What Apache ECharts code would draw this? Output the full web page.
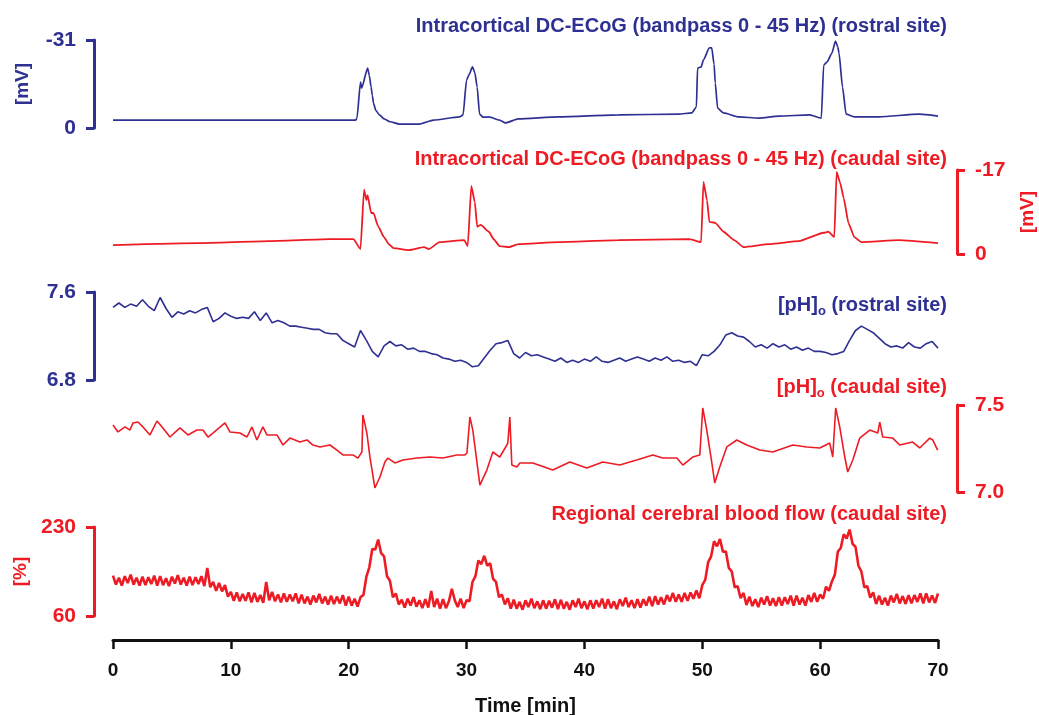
<!DOCTYPE html>
<html><head><meta charset="utf-8">
<script src="https://cdn.jsdelivr.net/npm/echarts@6/dist/echarts.min.js"></script>
<style>html,body{margin:0;padding:0;background:#fff}#c{width:1039px;height:715px}</style>
</head><body><div id="c"></div>
<script>
const BLUE = '#2E3192', RED = '#ED1C24', INK = '#111111';
const FONT = "'Liberation Sans', Arial, Helvetica, sans-serif";

// ---- x ticks
const timeTicks = [0, 10, 20, 30, 40, 50, 60, 70];

// ---- Panel 1: DC-ECoG rostral [mV]
const ecogRostralTime = [0,7.3,15.8,20.6,20.7,21.0,21.1,21.6,21.75,21.9,22.0,22.1,22.3,22.6,23.0,23.5,24.3,26.0,27.2,29.4,29.7,30.0,30.2,30.5,30.7,30.9,31.1,31.4,31.9,32.8,33.3,34.4,37.8,42.9,48.0,49.1,49.5,49.6,49.9,50.1,50.6,50.8,51.0,51.1,51.3,51.8,53.1,54.8,56.5,59.1,60.1,60.3,60.6,61.0,61.3,61.5,61.6,61.9,62.2,62.9,65.0,68.4,70.0];
const ecogRostralMv = [-2.8,-2.8,-2.8,-2.8,-3.5,-16.2,-14.1,-21.1,-18.5,-14.4,-11.5,-8.8,-6.2,-4.6,-3.2,-2.2,-1.4,-1.4,-2.8,-3.9,-4.6,-16.9,-18.7,-21.5,-19.5,-14.4,-4.9,-3.8,-3.9,-2.8,-1.8,-3.2,-3.9,-4.6,-4.9,-5.3,-7.4,-21.1,-21.5,-24.0,-28.2,-28.2,-22.5,-15.9,-7.0,-5.3,-3.9,-3.5,-4.2,-4.6,-3.5,-22.2,-23.3,-26.4,-30.6,-28.5,-26.4,-14.4,-4.9,-3.9,-3.9,-4.9,-4.2];

// ---- Panel 2: DC-ECoG caudal [mV]
const ecogCaudalTime = [0,7.3,13.2,18.3,20.4,21.0,21.3,21.5,21.6,21.9,22.1,22.5,23.0,23.4,23.8,25.1,26.4,26.8,27.7,29.8,30.1,30.4,30.7,30.9,31.2,31.9,32.3,32.8,33.6,34.4,37.8,42.9,48.9,49.9,50.1,50.4,50.6,51.1,51.8,52.7,53.5,55.7,58.2,60.3,60.7,61.2,61.4,61.7,62.0,62.4,62.9,63.5,66.7,70.0];
const ecogCaudalMv = [-1.8,-2.2,-2.6,-3.0,-3.0,-1.0,-13.0,-10.9,-11.9,-8.3,-8.3,-5.6,-3.4,-2.0,-1.2,-0.8,-1.4,-1.0,-2.4,-2.8,-1.6,-13.8,-10.5,-5.5,-5.9,-4.5,-3.0,-1.6,-1.4,-2.0,-2.4,-2.8,-3.0,-2.4,-14.6,-10.9,-6.5,-6.3,-4.5,-2.8,-1.4,-2.0,-2.6,-4.3,-4.5,-3.4,-16.6,-14.4,-11.3,-6.3,-3.4,-2.4,-2.8,-2.2];

// ---- half-minute sampling times (0 ... 70 min)
const halfMinTime = [0,0.5,1,1.5,2,2.5,3,3.5,4,4.5,5,5.5,6,6.5,7,7.5,8,8.5,9,9.5,10,10.5,11,11.5,12,12.5,13,13.5,14,14.5,15,15.5,16,16.5,17,17.5,18,18.5,19,19.5,20,20.5,21,21.5,22,22.5,23,23.5,24,24.5,25,25.5,26,26.5,27,27.5,28,28.5,29,29.5,30,30.5,31,31.5,32,32.5,33,33.5,34,34.5,35,35.5,36,36.5,37,37.5,38,38.5,39,39.5,40,40.5,41,41.5,42,42.5,43,43.5,44,44.5,45,45.5,46,46.5,47,47.5,48,48.5,49,49.5,50,50.5,51,51.5,52,52.5,53,53.5,54,54.5,55,55.5,56,56.5,57,57.5,58,58.5,59,59.5,60,60.5,61,61.5,62,62.5,63,63.5,64,64.5,65,65.5,66,66.5,67,67.5,68,68.5,69,69.5,70];

// ---- quarter-minute sampling times (0 ... 70 min)
const quarterMinTime = [
  0,0.25,0.5,0.75,1,1.25,1.5,1.75,2,2.25,2.5,2.75,3,3.25,3.5,3.75,4,4.25,4.5,4.75,
  5,5.25,5.5,5.75,6,6.25,6.5,6.75,7,7.25,7.5,7.75,8,8.25,8.5,8.75,9,9.25,9.5,9.75,
  10,10.25,10.5,10.75,11,11.25,11.5,11.75,12,12.25,12.5,12.75,13,13.25,13.5,13.75,14,14.25,14.5,14.75,
  15,15.25,15.5,15.75,16,16.25,16.5,16.75,17,17.25,17.5,17.75,18,18.25,18.5,18.75,19,19.25,19.5,19.75,
  20,20.25,20.5,20.75,21,21.25,21.5,21.75,22,22.25,22.5,22.75,23,23.25,23.5,23.75,24,24.25,24.5,24.75,
  25,25.25,25.5,25.75,26,26.25,26.5,26.75,27,27.25,27.5,27.75,28,28.25,28.5,28.75,29,29.25,29.5,29.75,
  30,30.25,30.5,30.75,31,31.25,31.5,31.75,32,32.25,32.5,32.75,33,33.25,33.5,33.75,34,34.25,34.5,34.75,
  35,35.25,35.5,35.75,36,36.25,36.5,36.75,37,37.25,37.5,37.75,38,38.25,38.5,38.75,39,39.25,39.5,39.75,
  40,40.25,40.5,40.75,41,41.25,41.5,41.75,42,42.25,42.5,42.75,43,43.25,43.5,43.75,44,44.25,44.5,44.75,
  45,45.25,45.5,45.75,46,46.25,46.5,46.75,47,47.25,47.5,47.75,48,48.25,48.5,48.75,49,49.25,49.5,49.75,
  50,50.25,50.5,50.75,51,51.25,51.5,51.75,52,52.25,52.5,52.75,53,53.25,53.5,53.75,54,54.25,54.5,54.75,
  55,55.25,55.5,55.75,56,56.25,56.5,56.75,57,57.25,57.5,57.75,58,58.25,58.5,58.75,59,59.25,59.5,59.75,
  60,60.25,60.5,60.75,61,61.25,61.5,61.75,62,62.25,62.5,62.75,63,63.25,63.5,63.75,64,64.25,64.5,64.75,
  65,65.25,65.5,65.75,66,66.25,66.5,66.75,67,67.25,67.5,67.75,68,68.25,68.5,68.75,69,69.25,69.5,69.75,
  70];

// ---- Panel 3: [pH]o rostral (half-minute samples)
const phRostral = [7.46,7.50,7.46,7.49,7.47,7.53,7.47,7.43,7.55,7.45,
  7.37,7.42,7.40,7.43,7.41,7.44,7.46,7.33,7.36,7.41,
  7.38,7.36,7.37,7.36,7.42,7.34,7.41,7.32,7.34,7.32,
  7.29,7.29,7.28,7.27,7.26,7.26,7.23,7.22,7.22,7.16,
  7.13,7.10,7.25,7.16,7.06,7.01,7.11,7.15,7.11,7.12,
  7.08,7.09,7.06,7.06,7.04,7.03,7.00,6.99,6.97,6.98,
  6.96,6.92,6.93,7.00,7.07,7.13,7.14,7.16,7.04,7.00,
  7.05,7.02,7.03,7.01,6.99,6.97,7.00,6.96,6.98,6.96,
  6.99,6.97,7.01,6.97,6.96,6.98,7.00,6.97,6.99,7.01,
  6.99,6.97,7.00,6.98,7.01,6.97,6.98,6.96,6.97,6.93,
  7.03,7.02,7.06,7.12,7.21,7.23,7.20,7.19,7.15,7.10,
  7.12,7.09,7.13,7.10,7.12,7.08,7.10,7.07,7.09,7.06,
  7.06,7.05,7.03,7.04,7.06,7.16,7.25,7.29,7.26,7.23,
  7.18,7.13,7.10,7.11,7.09,7.14,7.10,7.09,7.13,7.15,
  7.09];

// ---- Panel 4: [pH]o caudal
const phCaudalTime = [0,0.42,1.02,1.44,1.70,2.12,2.54,3.14,3.73,4.24,4.83,5.68,6.36,7.12,7.63,8.06,8.48,9.50,9.92,10.77,11.37,11.79,12.21,12.72,13.06,13.91,14.42,15.01,15.86,16.46,16.96,17.56,18.41,19.00,19.51,20.36,20.78,21.12,21.20,21.54,21.80,22.22,22.65,23.07,23.32,23.92,24.60,25.78,26.89,27.99,29.18,29.86,30.03,30.28,30.53,31.13,31.72,32.23,32.82,33.42,33.50,33.67,33.84,34.27,34.52,35.62,37.32,38.76,40.20,41.56,43.00,43.85,44.44,45.80,46.65,47.84,48.35,49.19,49.79,50.04,50.38,50.81,51.06,51.48,52.08,52.93,53.77,54.88,55.98,57.68,58.86,59.97,60.81,61.07,61.32,61.66,62.09,62.34,62.77,63.36,64.21,64.89,65.06,65.31,66.16,66.75,67.85,68.45,69.30,69.55,69.97];
const phCaudal = [7.385,7.345,7.374,7.356,7.397,7.402,7.374,7.328,7.408,7.368,7.316,7.368,7.328,7.356,7.356,7.316,7.339,7.397,7.345,7.339,7.316,7.374,7.299,7.374,7.328,7.328,7.270,7.310,7.287,7.299,7.270,7.259,7.270,7.241,7.213,7.213,7.195,7.230,7.443,7.339,7.201,7.023,7.086,7.172,7.195,7.167,7.184,7.195,7.201,7.195,7.213,7.213,7.224,7.431,7.356,7.040,7.126,7.230,7.201,7.270,7.282,7.431,7.155,7.144,7.167,7.167,7.126,7.172,7.138,7.172,7.155,7.172,7.184,7.213,7.195,7.195,7.155,7.201,7.213,7.483,7.356,7.167,7.052,7.144,7.259,7.299,7.270,7.241,7.230,7.270,7.259,7.253,7.282,7.201,7.483,7.374,7.201,7.115,7.184,7.310,7.356,7.339,7.402,7.316,7.310,7.270,7.287,7.253,7.310,7.299,7.241];

// ---- Panel 5: regional cerebral blood flow [%] (quarter-minute samples)
const cbfPercent = [
  137,120,133,118,136,123,139,120,133,118,135,119,134,121,137,118,136,119,132,117,
  135,122,138,120,133,118,135,119,134,121,136,117,152,115,125,108,123,107,119,97,
  106,89,105,88,102,89,105,86,104,87,100,85,125,90,106,88,101,86,103,87,
  101,88,103,84,101,84,97,82,99,86,102,84,97,82,99,83,97,84,100,80,
  97,80,93,78,96,100,135,153,188,187,206,180,174,136,127,96,103,82,91,76,
  93,80,96,78,90,75,92,76,108,77,93,74,92,75,88,112,90,77,93,75,
  90,88,125,136,166,159,175,156,161,131,125,96,101,82,94,74,91,74,87,72,
  90,77,93,75,88,73,90,74,89,76,92,73,91,74,87,72,90,77,93,75,
  88,73,90,74,90,77,93,74,92,75,88,73,92,79,95,77,90,75,92,76,
  92,80,97,79,98,82,96,82,100,88,104,87,101,87,104,89,105,93,109,94,
  119,129,163,174,203,193,207,183,183,152,145,115,117,94,104,81,97,79,92,77,
  95,82,98,80,94,79,96,80,96,83,99,80,99,82,95,80,100,87,104,87,
  101,93,116,108,126,139,183,190,216,208,225,198,192,156,145,115,117,95,105,83,
  99,82,95,80,99,86,102,84,98,83,100,84,100,87,103,84,103,86,99,85,
  103];

// ---- axis extents
const ecogRostralRange = [-31, 0];
const ecogCaudalRange = [-17, 0];
const phRostralRange = [6.8, 7.6];
const phCaudalRange = [7.0, 7.5];
const cbfRange = [60, 230];

const titles = [
  'Intracortical DC-ECoG (bandpass 0 - 45 Hz) (rostral site)',
  'Intracortical DC-ECoG (bandpass 0 - 45 Hz) (caudal site)',
  '{n|[pH]}{s|o}{n| (rostral site)}',
  '{n|[pH]}{s|o}{n| (caudal site)}',
  'Regional cerebral blood flow (caudal site)'
];

const zip = (t, v) => t.map((x, i) => [x, v[i]]);

const gridTops = [40, 170, 292, 405, 527];
const gridHeights = [88, 84, 88, 87, 89];
const grids = gridTops.map((t, i) => ({left: 113, width: 825, top: t, height: gridHeights[i],
  containLabel: false, outerBoundsMode: 'none'}));

function yAx(gi, pos, range, inverse, color, name, nameGap, dec) {
  return {
    gridIndex: gi, type: 'value', position: pos, offset: 19,
    min: range[0], max: range[1], inverse: inverse,
    name: name, nameLocation: 'middle', nameGap: nameGap, nameRotate: 90,
    nameTextStyle: {color: color, fontSize: 19, fontWeight: 'bold', fontFamily: FONT},
    axisLine: {show: true, onZero: false, lineStyle: {color: color, width: 3}},
    axisTick: {show: true, customValues: range, length: 8, lineStyle: {color: color, width: 3}},
    axisLabel: {show: true, customValues: range, margin: 18, color: color, fontSize: 21,
      fontWeight: 'bold', fontFamily: FONT, formatter: v => Number(v).toFixed(dec)},
    splitLine: {show: false}
  };
}

const xAxes = [0,1,2,3].map(i => ({gridIndex: i, type: 'value', min: 0, max: 70, show: false}));
xAxes.push({
  gridIndex: 4, type: 'value', min: timeTicks[0], max: timeTicks[timeTicks.length-1], interval: 10, offset: 24,
  axisLine: {show: true, onZero: false, lineStyle: {color: INK, width: 3}},
  axisTick: {show: true, length: 9, lineStyle: {color: INK, width: 2.5}},
  axisLabel: {margin: 21, color: INK, fontSize: 19, fontWeight: 'bold', fontFamily: FONT},
  splitLine: {show: false},
  name: 'Time [min]', nameLocation: 'middle', nameGap: 56,
  nameTextStyle: {color: INK, fontSize: 20, fontWeight: 'bold', fontFamily: FONT}
});

const yAxes = [
  yAx(0, 'left', ecogRostralRange, true, BLUE, '[mV]', 62, 0),
  yAx(1, 'right', ecogCaudalRange, true, RED, '[mV]', 61, 0),
  yAx(2, 'left', phRostralRange, false, BLUE, '', 50, 1),
  yAx(3, 'right', phCaudalRange, false, RED, '', 50, 1),
  yAx(4, 'left', cbfRange, false, RED, '[%]', 64, 0)
];

function mkTitle(text, color, top) {
  return {
    text: text, right: 92, top: top, padding: 0,
    textStyle: {color: color, fontSize: 20, fontWeight: 'bold', fontFamily: FONT,
      rich: {
        n: {color: color, fontSize: 20, fontWeight: 'bold', fontFamily: FONT, lineHeight: 26, verticalAlign: 'middle'},
        s: {color: color, fontSize: 13, fontWeight: 'bold', fontFamily: FONT, lineHeight: 26, verticalAlign: 'bottom'}
      }}
  };
}

function line(gi, data, color, w, smooth) {
  return {type: 'line', xAxisIndex: gi, yAxisIndex: gi, data: data, showSymbol: false,
    symbol: 'none', smooth: smooth, smoothMonotone: 'x',
    lineStyle: {color: color, width: w}, itemStyle: {color: color}, silent: true};
}

const chart = echarts.init(document.getElementById('c'), null, {renderer: 'canvas'});
chart.setOption({
  animation: false,
  backgroundColor: '#ffffff',
  title: [
    mkTitle(titles[0], BLUE, 16),
    mkTitle(titles[1], RED, 149),
    mkTitle(titles[2], BLUE, 292),
    mkTitle(titles[3], RED, 374),
    mkTitle(titles[4], RED, 504)
  ],
  grid: grids,
  xAxis: xAxes,
  yAxis: yAxes,
  series: [
    line(0, zip(ecogRostralTime, ecogRostralMv), BLUE, 1.7, 0.2),
    line(1, zip(ecogCaudalTime, ecogCaudalMv), RED, 1.8, 0.15),
    line(2, zip(halfMinTime, phRostral), BLUE, 1.6, false),
    line(3, zip(phCaudalTime, phCaudal), RED, 1.6, false),
    line(4, zip(quarterMinTime, cbfPercent), RED, 2.6, false)
  ]
});
</script></body></html>
